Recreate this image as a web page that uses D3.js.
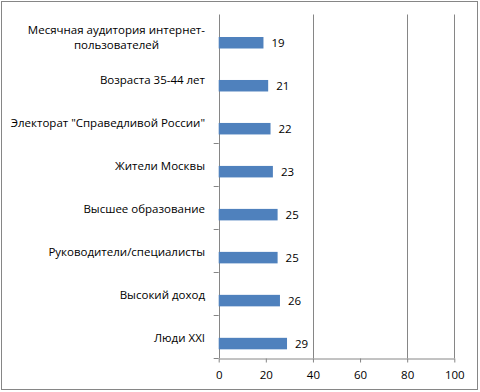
<!DOCTYPE html>
<html><head><meta charset="utf-8">
<script src="https://cdn.jsdelivr.net/npm/d3@7"></script>
<style>body{margin:0;background:#fff}svg{display:block}text{font-family:"Open Sans",sans-serif}</style>
</head><body><svg id="c" width="480" height="392"></svg>
<script>
const categories = [["Месячная аудитория интернет-","пользователей"],["Возраста 35-44 лет"],["Электорат \"Справедливой России\""],["Жители Москвы"],["Высшее образование"],["Руководители/специалисты"],["Высокий доход"],["Люди XXI"]];
const values = [19,21,22,23,25,25,26,29];
const xTicks = [0,20,40,60,80,100];
const gridValues = [40,80,100];

const svg = d3.select("#c");
const pL = 218.7, pR = 454.3, pT = 14.5, pB = 358.3;
const x = d3.scaleLinear().domain([0,100]).range([pL,pR]);
const y = d3.scaleBand().domain(d3.range(categories.length)).range([pT,pB]);
const gray = "#868686";
const fs = "11.5px";

svg.append("rect").attr("x",1.5).attr("y",1.5).attr("width",476).attr("height",388).attr("fill","#fff").attr("stroke",gray);

svg.selectAll(".grid").data(gridValues).join("line")
  .attr("x1",d=>Math.round(x(d))+0.5).attr("x2",d=>Math.round(x(d))+0.5)
  .attr("y1",pT).attr("y2",pB).attr("stroke",gray);

// x axis
const xa = svg.append("g").attr("transform",`translate(0,${Math.round(pB)+0.5})`)
  .call(d3.axisBottom(x).tickValues(xTicks).tickSize(4).tickSizeOuter(0));
xa.select(".domain").attr("stroke",gray);
xa.selectAll(".tick line").attr("stroke",gray);
xa.selectAll(".tick text").attr("fill","#000").style("font-size",fs).attr("dy","1.15em");

// y axis line + ticks at band boundaries
svg.append("line").attr("x1",Math.round(pL)+0.5).attr("x2",Math.round(pL)+0.5)
  .attr("y1",pT).attr("y2",pB).attr("stroke",gray);
svg.append("line").attr("x1",pL-5).attr("x2",pL).attr("y1",Math.round(pB)+0.5).attr("y2",Math.round(pB)+0.5).attr("stroke",gray);
svg.selectAll(".yt").data(d3.range(3, categories.length)).join("line")
  .attr("x1",pL-5).attr("x2",pL)
  .attr("y1",d=>Math.round(y(d))+0.5).attr("y2",d=>Math.round(y(d))+0.5).attr("stroke",gray);

// bars
const bh = 11.5;
svg.selectAll(".bar").data(values).join("rect")
  .attr("x",x(0)).attr("y",(d,i)=>y(i)+22.5).attr("width",d=>x(d)-x(0)).attr("height",bh)
  .attr("fill","#4f81bd");

svg.selectAll(".vl").data(values).join("text")
  .attr("x",d=>x(d)+8).attr("y",(d,i)=>y(i)+22.5+bh/2).attr("dy","0.36em")
  .style("font-size",fs).attr("fill","#000").text(d=>d);

// category labels
const lab = svg.selectAll(".cl").data(categories).join("text")
  .style("font-size",fs).attr("fill","#000")
  .attr("transform",(d,i)=>`translate(205,${y(i)+y.bandwidth()/2+1})`);
lab.each(function(d){
  const t = d3.select(this);
  const n = d.length;
  const first = t.append("tspan").attr("x",0).attr("text-anchor","end")
     .attr("y",(0-(n-1)/2)*15).attr("dy","0.36em").text(d[0]);
  const w = first.node().getComputedTextLength();
  for(let k=1;k<n;k++){
    t.append("tspan").attr("x",-w/2).attr("text-anchor","middle")
     .attr("y",(k-(n-1)/2)*15).attr("dy","0.36em").text(d[k]);
  }
});
</script></body></html>
